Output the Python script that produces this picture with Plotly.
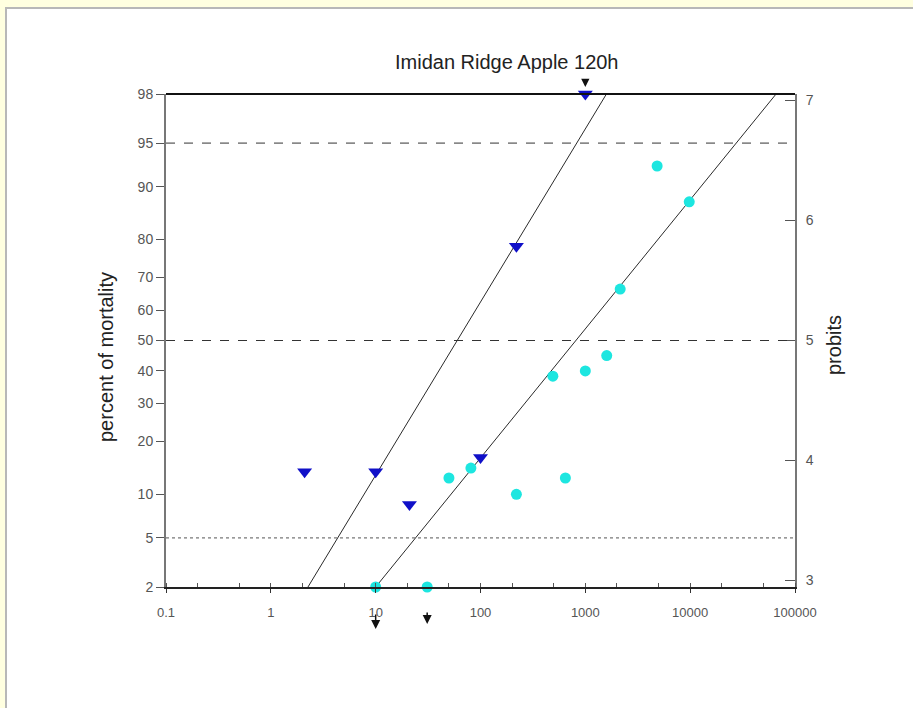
import plotly.graph_objects as go
from statistics import NormalDist
import math

# ---- data ----
blue_dose = [2.1, 10, 21, 100, 220, 1000]
blue_pct = [13.7, 13.7, 8.6, 16.5, 78.4, 98]
cyan_dose = [10, 31, 50, 81, 220, 490, 645, 1000, 1600, 2150, 4840, 9800]
cyan_pct = [2, 2, 12.6, 14.4, 10.0, 38.3, 12.6, 40, 45, 66.6, 92.7, 87.6]
blue_fit_dose = [2.26, 1590]
cyan_fit_dose = [10, 66000]
fit_pct = [2, 98]
left_ticks = [98, 95, 90, 80, 70, 60, 50, 40, 30, 20, 10, 5, 2]
right_ticks = [3, 4, 5, 6, 7]
x_tickvals = [0.1, 1, 10, 100, 1000, 10000, 100000]
x_ticktext = ["0.1", "1", "10", "100", "1000", "10000", "100000"]
ref_dashed = [95, 50]
ref_dotted = [5]


def probit(p):
    return 5 + NormalDist().inv_cdf(p / 100.0)


ymin, ymax = probit(2), probit(98)
PW, PH = 629, 493

fig = go.Figure()

# fit lines
fig.add_trace(go.Scatter(x=blue_fit_dose, y=[probit(p) for p in fit_pct], mode="lines",
                         line=dict(color="#2a2a2a", width=1), showlegend=False, cliponaxis=False))
fig.add_trace(go.Scatter(x=cyan_fit_dose, y=[probit(p) for p in fit_pct], mode="lines",
                         line=dict(color="#2a2a2a", width=1), showlegend=False, cliponaxis=False))

# points
fig.add_trace(go.Scatter(x=cyan_dose, y=[probit(p) for p in cyan_pct], mode="markers",
                         marker=dict(symbol="circle", size=11, color="#1de6e0"),
                         showlegend=False, cliponaxis=False))
fig.add_trace(go.Scatter(x=blue_dose, y=[probit(p) for p in blue_pct], mode="markers",
                         marker=dict(symbol="triangle-down", size=13, color="#1010c8"),
                         showlegend=False, cliponaxis=False))

# dummy trace for right axis
fig.add_trace(go.Scatter(x=[1], y=[5], yaxis="y2", mode="markers",
                         marker=dict(opacity=0), showlegend=False, hoverinfo="skip"))

shapes = []
for p in ref_dashed:
    shapes.append(dict(type="line", xref="paper", yref="y", x0=0, x1=1, y0=probit(p), y1=probit(p),
                       line=dict(color="#333", width=1, dash="dash")))
for p in ref_dotted:
    shapes.append(dict(type="line", xref="paper", yref="y", x0=0, x1=1, y0=probit(p), y1=probit(p),
                       line=dict(color="#555", width=1, dash="dot")))
# top solid line at 98%
shapes.append(dict(type="line", xref="paper", yref="paper", x0=0, x1=1, y0=1, y1=1,
                   line=dict(color="#111", width=2)))
# white panel
shapes.append(dict(type="rect", xref="paper", yref="paper", layer="below",
                   x0=-160 / PW, x1=(913 - 166) / PW + 0.01, y0=-(708 - 587) / PH - 0.01, y1=1 + 86 / PH,
                   fillcolor="white", line=dict(color="#b8b8b8", width=2)))

annotations = [
    dict(text="Imidan Ridge Apple 120h", xref="paper", yref="paper", x=(507 - 166) / PW,
         y=1 + 32 / PH, showarrow=False, font=dict(size=20, color="#222"), yanchor="middle"),
    dict(text="percent of mortality", xref="paper", yref="paper", x=(106 - 166) / PW,
         y=1 - (357 - 94) / PH, showarrow=False, textangle=-90, font=dict(size=20, color="#222"),
         xanchor="center", yanchor="middle"),
    dict(text="probits", xref="paper", yref="paper", x=(834 - 166) / PW,
         y=1 - (345 - 94) / PH, showarrow=False, textangle=-90, font=dict(size=20, color="#222"),
         xanchor="center", yanchor="middle"),
    dict(text="", x=math.log10(blue_dose[-1]), y=probit(blue_pct[-1]), xref="x", yref="y",
         showarrow=True, ax=0, ay=-15, standoff=7, arrowhead=2, arrowsize=1.1, arrowwidth=1.5,
         arrowcolor="#111"),
    dict(text="", x=math.log10(cyan_dose[0]), y=-42 / PH, xref="x", yref="paper",
         showarrow=True, ax=0, ay=-16, arrowhead=2, arrowsize=1.2, arrowwidth=1.5, arrowcolor="#111"),
    dict(text="", x=math.log10(cyan_dose[1]), y=-37 / PH, xref="x", yref="paper",
         showarrow=True, ax=0, ay=-13, arrowhead=2, arrowsize=1.2, arrowwidth=1.5, arrowcolor="#111"),
]

fig.update_layout(
    width=913, height=708,
    margin=dict(l=166, r=118, t=94, b=121),
    paper_bgcolor="#ffffe0",
    plot_bgcolor="white",
    font=dict(family="Liberation Sans, Arial", color="#222"),
    shapes=shapes,
    annotations=annotations,
    xaxis=dict(type="log", range=[-1, 5], tickvals=x_tickvals, ticktext=x_ticktext,
               showgrid=False, zeroline=False, showline=True, linecolor="#222", linewidth=2,
               ticks="outside", ticklen=4, tickcolor="#333", ticklabelstandoff=8,
               tickfont=dict(family="Liberation Sans, Arial", size=13, color="#555"),
               minor=dict(ticks="inside", ticklen=4, tickcolor="#555", showgrid=False)),
    yaxis=dict(range=[ymin, ymax], tickvals=[probit(p) for p in left_ticks],
               ticktext=[str(p) for p in left_ticks],
               showgrid=False, zeroline=False, showline=True, linecolor="#777", linewidth=2,
               ticks="outside", ticklen=8, tickcolor="#555",
               tickfont=dict(family="Liberation Sans, Arial", size=14, color="#555")),
    yaxis2=dict(range=[ymin, ymax], overlaying="y", side="right", tickvals=right_ticks,
                showgrid=False, zeroline=False, showline=True, linecolor="#777", linewidth=2,
                ticks="inside", ticklen=10, tickcolor="#555", ticklabelstandoff=6,
                tickfont=dict(family="Liberation Sans, Arial", size=14, color="#555")),
)

fig.write_html("out.html")
